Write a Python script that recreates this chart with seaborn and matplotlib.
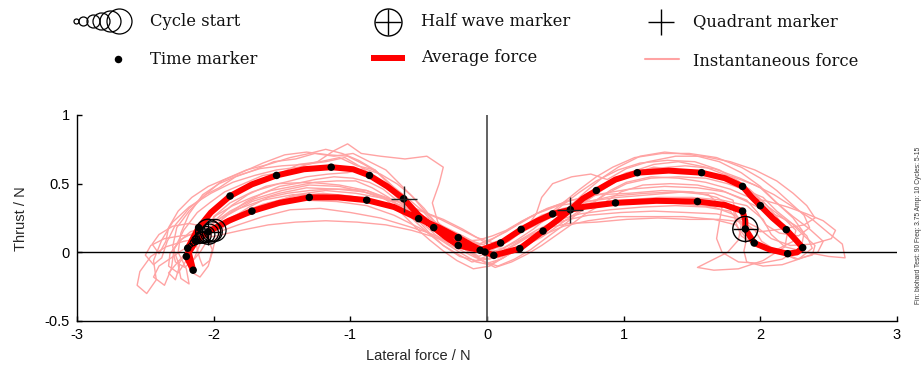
import matplotlib
matplotlib.use("Agg")
import matplotlib.pyplot as plt
import seaborn as sns
import pandas as pd

# ---------------- data ----------------
# time markers along the average force path, in cycle order
avg_x = [-2.04, -2.13, -2.20, -2.15, -2.19, -2.11, -1.88, -1.54, -1.14, -0.86,
         -0.61, -0.39, -0.21, -0.05, 0.10, 0.25, 0.48, 0.94, 1.54, 1.87,
         1.89, 1.955, 2.20, 2.31, 2.19, 2.00, 1.87, 1.57, 1.10, 0.80,
         0.61, 0.41, 0.24, 0.05, -0.015, -0.21, -0.50, -0.88, -1.30, -1.72]
avg_y = [0.15, 0.08, -0.03, -0.13, 0.03, 0.18, 0.41, 0.56, 0.62, 0.56,
         0.39, 0.18, 0.05, 0.015, 0.068, 0.167, 0.28, 0.36, 0.37, 0.30,
         0.17, 0.068, -0.01, 0.034, 0.165, 0.34, 0.48, 0.58, 0.58, 0.45,
         0.31, 0.155, 0.027, -0.022, 0.002, 0.107, 0.245, 0.38, 0.40, 0.30]

# the average force curve itself (markers plus points)
avg_line_x = [-2.04, -2.13, -2.20, -2.15, -2.19, -2.11, -2.02, -1.88, -1.72, -1.54,
              -1.34, -1.14, -0.98, -0.86, -0.73, -0.61, -0.50, -0.39, -0.30, -0.21,
              -0.05, 0.10, 0.25, 0.37, 0.48, 0.70, 0.94, 1.24, 1.54, 1.74,
              1.87, 1.89, 1.89, 1.955, 2.07, 2.20, 2.27, 2.31, 2.26, 2.19,
              2.09, 2.00, 1.93, 1.87, 1.74, 1.57, 1.33, 1.10, 0.94, 0.80,
              0.70, 0.61, 0.51, 0.41, 0.24, 0.05, -0.015, -0.11, -0.21, -0.35,
              -0.50, -0.68, -0.88, -1.09, -1.30, -1.52, -1.72, -1.89, -2.04]
avg_line_y = [0.15, 0.08, -0.03, -0.13, 0.03, 0.18, 0.29, 0.41, 0.495, 0.56,
              0.605, 0.62, 0.605, 0.56, 0.48, 0.39, 0.27, 0.18, 0.11, 0.05,
              0.015, 0.068, 0.167, 0.23, 0.28, 0.33, 0.36, 0.375, 0.37, 0.345,
              0.30, 0.23, 0.17, 0.068, 0.02, -0.01, 0.0, 0.034, 0.09, 0.165,
              0.25, 0.34, 0.41, 0.48, 0.54, 0.58, 0.595, 0.58, 0.53, 0.45,
              0.39, 0.31, 0.23, 0.155, 0.027, -0.022, 0.002, 0.05, 0.107, 0.18,
              0.245, 0.33, 0.38, 0.40, 0.40, 0.36, 0.30, 0.23, 0.15]

half_x = [-2.04, 1.89]
half_y = [0.15, 0.17]
quad_x = [-0.61, 0.61]
quad_y = [0.39, 0.31]

start_x = [-2.17, -2.15, -2.13, -2.11, -2.09, -2.07, -2.05, -2.03, -2.01, -1.99]
start_y = [0.05, 0.07, 0.09, 0.10, 0.11, 0.12, 0.13, 0.14, 0.15, 0.16]
start_d = [4, 6, 8, 10, 12, 14, 16, 18, 20, 22]   # circle diameters (px)

cycle_05 = [(-2.17,0.05),(-2.24,0.01),(-2.31,-0.04),(-2.40,-0.10),(-2.44,-0.18),(-2.36,-0.24),(-2.31,-0.12),(-2.29,0.02),(-2.22,0.16),(-2.12,0.29),(-2.03,0.36),(-1.92,0.44),(-1.78,0.50),(-1.64,0.56),(-1.50,0.58),(-1.38,0.64),(-1.22,0.66),(-1.08,0.69),(-0.95,0.63),(-0.82,0.60),(-0.70,0.49),(-0.60,0.41),(-0.47,0.30),(-0.38,0.20),(-0.26,0.11),(-0.15,0.03),(-0.06,-0.03),(0.06,0.03),(0.15,0.09),(0.26,0.16),(0.40,0.24),(0.56,0.30),(0.75,0.33),(0.98,0.35),(1.22,0.37),(1.45,0.35),(1.66,0.33),(1.82,0.27),(1.90,0.16),(1.98,0.07),(2.12,0.01),(2.28,-0.05),(2.42,0.00),(2.46,0.08),(2.36,0.17),(2.24,0.26),(2.12,0.36),(2.00,0.47),(1.85,0.54),(1.66,0.61),(1.45,0.63),(1.22,0.61),(1.02,0.58),(0.86,0.50),(0.72,0.42),(0.58,0.31),(0.45,0.20),(0.34,0.10),(0.22,0.02),(0.10,-0.05),(0.00,-0.08),(-0.08,-0.03),(-0.18,0.05),(-0.30,0.14),(-0.45,0.22),(-0.62,0.30),(-0.80,0.37),(-1.00,0.41),(-1.20,0.43),(-1.40,0.41),(-1.60,0.36),(-1.80,0.28),(-1.98,0.17)]
cycle_06 = [(-2.15,0.07),(-2.20,0.00),(-2.27,-0.08),(-2.33,-0.15),(-2.28,-0.20),(-2.25,-0.10),(-2.30,0.04),(-2.27,0.18),(-2.18,0.30),(-2.06,0.42),(-1.96,0.47),(-1.84,0.55),(-1.70,0.60),(-1.56,0.66),(-1.40,0.68),(-1.26,0.72),(-1.12,0.70),(-0.98,0.72),(-0.86,0.66),(-0.74,0.60),(-0.64,0.50),(-0.54,0.40),(-0.44,0.28),(-0.34,0.18),(-0.24,0.10),(-0.12,0.05),(-0.02,0.06),(0.08,0.12),(0.18,0.18),(0.30,0.25),(0.44,0.32),(0.62,0.38),(0.82,0.42),(1.04,0.43),(1.28,0.45),(1.50,0.44),(1.68,0.40),(1.80,0.33),(1.82,0.22),(1.86,0.12),(1.98,0.04),(2.12,0.02),(2.24,0.08),(2.26,0.16),(2.18,0.24),(2.06,0.33),(1.96,0.42),(1.84,0.52),(1.70,0.60),(1.52,0.66),(1.32,0.67),(1.12,0.65),(0.96,0.60),(0.80,0.52),(0.68,0.44),(0.56,0.35),(0.45,0.26),(0.34,0.17),(0.22,0.09),(0.10,0.02),(0.00,0.00),(-0.10,0.05),(-0.22,0.12),(-0.36,0.20),(-0.52,0.29),(-0.70,0.37),(-0.90,0.44),(-1.10,0.46),(-1.32,0.47),(-1.52,0.43),(-1.72,0.37),(-1.90,0.27),(-2.04,0.16)]
cycle_07 = [(-2.13,0.09),(-2.12,0.02),(-2.10,-0.05),(-2.08,-0.10),(-2.03,-0.06),(-2.01,0.02),(-2.04,0.09),(-2.00,0.17),(-1.94,0.24),(-1.85,0.31),(-1.76,0.37),(-1.64,0.43),(-1.52,0.48),(-1.40,0.50),(-1.26,0.53),(-1.12,0.55),(-0.98,0.54),(-0.86,0.51),(-0.76,0.46),(-0.66,0.38),(-0.58,0.31),(-0.48,0.22),(-0.38,0.13),(-0.28,0.06),(-0.18,0.01),(-0.08,-0.04),(0.02,-0.05),(0.12,0.01),(0.22,0.07),(0.32,0.13),(0.45,0.18),(0.60,0.21),(0.80,0.22),(1.02,0.24),(1.25,0.25),(1.48,0.24),(1.70,0.24),(1.88,0.22),(1.96,0.16),(2.01,0.08),(2.12,0.01),(2.26,-0.05),(2.38,-0.02),(2.40,0.05),(2.32,0.12),(2.22,0.22),(2.12,0.30),(2.02,0.40),(1.90,0.45),(1.76,0.50),(1.60,0.54),(1.40,0.55),(1.20,0.54),(1.02,0.50),(0.88,0.43),(0.76,0.35),(0.66,0.28),(0.55,0.19),(0.44,0.11),(0.32,0.02),(0.20,-0.05),(0.08,-0.10),(-0.02,-0.07),(-0.12,0.00),(-0.24,0.06),(-0.38,0.11),(-0.55,0.16),(-0.74,0.20),(-0.95,0.22),(-1.18,0.23),(-1.40,0.22),(-1.60,0.20),(-1.80,0.16),(-1.98,0.12)]
cycle_08 = [(-2.11,0.10),(-2.22,0.08),(-2.35,0.04),(-2.46,-0.03),(-2.54,-0.14),(-2.56,-0.24),(-2.49,-0.30),(-2.42,-0.20),(-2.44,-0.06),(-2.38,0.09),(-2.30,0.22),(-2.18,0.33),(-2.02,0.43),(-1.86,0.51),(-1.70,0.56),(-1.54,0.60),(-1.38,0.62),(-1.24,0.66),(-1.12,0.74),(-1.02,0.79),(-0.92,0.72),(-0.78,0.70),(-0.60,0.68),(-0.44,0.70),(-0.32,0.62),(-0.35,0.50),(-0.40,0.36),(-0.36,0.22),(-0.26,0.12),(-0.14,0.03),(-0.04,0.00),(0.06,0.04),(0.16,0.09),(0.26,0.15),(0.38,0.21),(0.52,0.28),(0.70,0.36),(0.92,0.41),(1.16,0.43),(1.40,0.44),(1.62,0.42),(1.72,0.33),(1.70,0.22),(1.68,0.10),(1.72,0.00),(1.84,-0.07),(2.00,-0.08),(2.16,-0.05),(2.30,0.04),(2.32,0.14),(2.24,0.25),(2.12,0.36),(2.00,0.48),(1.86,0.58),(1.70,0.66),(1.50,0.71),(1.30,0.73),(1.12,0.70),(0.96,0.62),(0.84,0.54),(0.72,0.44),(0.60,0.33),(0.48,0.22),(0.36,0.12),(0.24,0.04),(0.12,-0.04),(0.02,-0.09),(-0.08,-0.07),(-0.20,0.00),(-0.34,0.09),(-0.50,0.18),(-0.68,0.27),(-0.88,0.34),(-1.10,0.37),(-1.34,0.38),(-1.56,0.35),(-1.76,0.28),(-1.94,0.20)]
cycle_09 = [(-2.09,0.11),(-2.15,0.14),(-2.23,0.10),(-2.30,0.02),(-2.28,-0.07),(-2.21,-0.11),(-2.14,-0.04),(-2.10,0.06),(-2.05,0.15),(-1.97,0.25),(-1.87,0.34),(-1.75,0.42),(-1.62,0.48),(-1.48,0.51),(-1.32,0.55),(-1.16,0.57),(-1.02,0.58),(-0.90,0.61),(-0.78,0.57),(-0.66,0.50),(-0.56,0.42),(-0.46,0.32),(-0.38,0.22),(-0.28,0.13),(-0.19,0.06),(-0.10,0.02),(0.00,0.02),(0.09,0.07),(0.18,0.13),(0.28,0.20),(0.40,0.27),(0.56,0.32),(0.76,0.36),(1.00,0.38),(1.26,0.40),(1.50,0.40),(1.72,0.38),(1.90,0.34),(2.02,0.24),(2.08,0.13),(2.18,0.04),(2.34,0.00),(2.50,-0.03),(2.62,-0.04),(2.60,0.06),(2.50,0.14),(2.38,0.24),(2.24,0.33),(2.10,0.42),(1.96,0.49),(1.80,0.55),(1.62,0.57),(1.42,0.60),(1.22,0.62),(1.04,0.57),(0.90,0.49),(0.78,0.41),(0.66,0.33),(0.55,0.24),(0.44,0.16),(0.32,0.07),(0.20,0.00),(0.08,-0.04),(-0.04,0.00),(-0.14,0.08),(-0.26,0.15),(-0.40,0.23),(-0.56,0.31),(-0.74,0.39),(-0.96,0.43),(-1.18,0.45),(-1.40,0.42),(-1.60,0.35),(-1.80,0.26),(-1.96,0.17)]
cycle_10 = [(-2.07,0.12),(-2.13,0.08),(-2.20,0.00),(-2.26,-0.09),(-2.24,-0.19),(-2.18,-0.23),(-2.20,-0.12),(-2.26,0.00),(-2.24,0.14),(-2.18,0.28),(-2.08,0.42),(-1.96,0.50),(-1.82,0.56),(-1.66,0.61),(-1.50,0.63),(-1.34,0.64),(-1.18,0.66),(-1.04,0.69),(-0.92,0.62),(-0.82,0.54),(-0.72,0.46),(-0.62,0.36),(-0.52,0.25),(-0.42,0.14),(-0.32,0.05),(-0.20,-0.03),(-0.08,-0.06),(0.04,-0.01),(0.14,0.04),(0.24,0.09),(0.36,0.16),(0.50,0.23),(0.68,0.28),(0.90,0.31),(1.14,0.33),(1.38,0.34),(1.60,0.33),(1.78,0.30),(1.86,0.20),(1.84,0.09),(1.76,0.00),(1.62,-0.07),(1.54,-0.11),(1.66,-0.13),(1.84,-0.12),(2.02,-0.06),(2.18,0.04),(2.20,0.15),(2.12,0.26),(2.02,0.37),(1.92,0.46),(1.78,0.55),(1.60,0.62),(1.40,0.66),(1.22,0.64),(1.04,0.58),(0.90,0.50),(0.78,0.41),(0.66,0.33),(0.55,0.24),(0.44,0.16),(0.32,0.09),(0.20,0.03),(0.08,-0.01),(-0.04,0.04),(-0.18,0.12),(-0.34,0.19),(-0.52,0.26),(-0.72,0.33),(-0.94,0.39),(-1.18,0.42),(-1.42,0.42),(-1.64,0.38),(-1.84,0.31),(-2.00,0.22)]
cycle_11 = [(-2.05,0.13),(-2.10,0.17),(-2.17,0.15),(-2.25,0.08),(-2.32,-0.01),(-2.33,-0.10),(-2.26,-0.15),(-2.20,-0.06),(-2.16,0.06),(-2.08,0.18),(-1.98,0.27),(-1.86,0.34),(-1.72,0.40),(-1.58,0.45),(-1.42,0.48),(-1.26,0.51),(-1.10,0.52),(-0.96,0.52),(-0.84,0.47),(-0.72,0.40),(-0.62,0.32),(-0.52,0.22),(-0.42,0.13),(-0.32,0.05),(-0.22,-0.01),(-0.11,-0.07),(0.00,-0.05),(0.10,0.00),(0.20,0.05),(0.30,0.11),(0.42,0.17),(0.56,0.23),(0.74,0.27),(0.98,0.29),(1.22,0.30),(1.46,0.29),(1.68,0.28),(1.86,0.24),(1.98,0.18),(2.08,0.10),(2.22,0.05),(2.38,0.06),(2.52,0.10),(2.55,0.16),(2.46,0.23),(2.34,0.28),(2.20,0.33),(2.06,0.37),(1.92,0.40),(1.78,0.46),(1.60,0.51),(1.40,0.54),(1.20,0.55),(1.02,0.51),(0.90,0.45),(0.80,0.38),(0.70,0.32),(0.60,0.25),(0.50,0.18),(0.40,0.11),(0.28,0.05),(0.16,0.02),(0.04,0.04),(-0.06,0.10),(-0.18,0.17),(-0.32,0.24),(-0.48,0.30),(-0.66,0.37),(-0.86,0.43),(-1.08,0.48),(-1.30,0.49),(-1.50,0.45),(-1.70,0.39),(-1.88,0.30),(-2.02,0.20)]
cycle_12 = [(-2.03,0.14),(-2.12,0.13),(-2.24,0.12),(-2.36,0.10),(-2.46,0.05),(-2.50,-0.02),(-2.44,-0.09),(-2.38,-0.04),(-2.34,0.08),(-2.28,0.20),(-2.18,0.32),(-2.06,0.42),(-1.94,0.52),(-1.80,0.58),(-1.64,0.65),(-1.48,0.71),(-1.32,0.73),(-1.16,0.71),(-1.02,0.70),(-0.90,0.64),(-0.80,0.58),(-0.70,0.49),(-0.60,0.38),(-0.50,0.28),(-0.40,0.19),(-0.30,0.12),(-0.18,0.08),(-0.06,0.09),(0.04,0.12),(0.14,0.16),(0.26,0.23),(0.40,0.30),(0.58,0.37),(0.80,0.42),(1.04,0.46),(1.30,0.48),(1.54,0.47),(1.74,0.44),(1.90,0.38),(1.98,0.29),(2.04,0.20),(2.14,0.14),(2.28,0.12),(2.36,0.18),(2.32,0.27),(2.22,0.36),(2.12,0.45),(2.00,0.54),(1.86,0.62),(1.68,0.69),(1.48,0.72),(1.28,0.72),(1.08,0.69),(0.92,0.62),(0.80,0.55),(0.68,0.46),(0.58,0.38),(0.48,0.30),(0.38,0.23),(0.26,0.16),(0.14,0.10),(0.04,0.07),(-0.08,0.11),(-0.20,0.17),(-0.34,0.24),(-0.50,0.31),(-0.68,0.38),(-0.88,0.45),(-1.08,0.49),(-1.30,0.51),(-1.52,0.50),(-1.72,0.44),(-1.88,0.36),(-2.00,0.26)]
cycle_13 = [(-2.01,0.15),(-2.05,0.08),(-2.10,0.00),(-2.16,-0.07),(-2.17,-0.14),(-2.10,-0.18),(-2.04,-0.10),(-2.01,0.00),(-1.99,0.09),(-1.93,0.18),(-1.85,0.26),(-1.74,0.33),(-1.60,0.40),(-1.46,0.43),(-1.30,0.45),(-1.16,0.46),(-1.02,0.46),(-0.88,0.45),(-0.76,0.40),(-0.66,0.32),(-0.58,0.24),(-0.50,0.16),(-0.42,0.09),(-0.32,0.01),(-0.22,-0.06),(-0.10,-0.12),(0.02,-0.10),(0.10,-0.05),(0.20,0.01),(0.30,0.07),(0.42,0.13),(0.56,0.19),(0.74,0.23),(0.96,0.26),(1.20,0.26),(1.44,0.26),(1.66,0.24),(1.82,0.20),(1.90,0.10),(1.88,0.01),(1.90,-0.07),(2.02,-0.10),(2.16,-0.09),(2.28,-0.05),(2.38,0.03),(2.34,0.12),(2.25,0.20),(2.14,0.26),(2.02,0.31),(1.88,0.38),(1.72,0.45),(1.54,0.49),(1.34,0.50),(1.14,0.49),(0.98,0.44),(0.84,0.35),(0.72,0.28),(0.60,0.19),(0.50,0.12),(0.40,0.05),(0.30,-0.01),(0.18,-0.07),(0.06,-0.11),(-0.04,-0.06),(-0.16,0.02),(-0.28,0.08),(-0.42,0.14),(-0.58,0.19),(-0.78,0.25),(-1.00,0.29),(-1.22,0.32),(-1.44,0.31),(-1.64,0.26),(-1.82,0.20),(-1.96,0.15)]
cycle_14 = [(-1.99,0.16),(-2.08,0.19),(-2.18,0.21),(-2.30,0.19),(-2.40,0.13),(-2.45,0.06),(-2.40,-0.01),(-2.35,0.08),(-2.33,0.18),(-2.26,0.30),(-2.16,0.40),(-2.04,0.48),(-1.90,0.54),(-1.76,0.60),(-1.60,0.64),(-1.44,0.69),(-1.30,0.72),(-1.18,0.75),(-1.06,0.72),(-0.94,0.67),(-0.82,0.60),(-0.72,0.50),(-0.62,0.40),(-0.52,0.29),(-0.42,0.20),(-0.30,0.12),(-0.18,0.07),(-0.06,0.06),(0.04,0.10),(0.14,0.15),(0.24,0.21),(0.36,0.28),(0.52,0.34),(0.72,0.37),(0.96,0.40),(1.20,0.42),(1.44,0.44),(1.66,0.43),(1.80,0.38),(1.82,0.28),(1.88,0.19),(2.00,0.15),(2.16,0.17),(2.32,0.20),(2.40,0.25),(2.34,0.34),(2.24,0.43),(2.12,0.52),(1.96,0.60),(1.78,0.66),(1.58,0.70),(1.38,0.70),(1.18,0.66),(1.02,0.61),(0.88,0.53),(0.76,0.57),(0.62,0.55),(0.48,0.50),(0.40,0.40),(0.36,0.28),(0.28,0.17),(0.16,0.08),(0.04,0.03),(-0.10,0.08),(-0.24,0.15),(-0.40,0.23),(-0.58,0.30),(-0.78,0.36),(-1.00,0.40),(-1.22,0.41),(-1.44,0.39),(-1.64,0.35),(-1.82,0.28),(-1.96,0.21)]
cycles = [cycle_05, cycle_06, cycle_07, cycle_08, cycle_09,
          cycle_10, cycle_11, cycle_12, cycle_13, cycle_14]

x_ticks = [-3, -2, -1, 0, 1, 2, 3]
x_labels = ["-3", "-2", "-1", "0", "1", "2", "3"]
y_ticks = [-0.5, 0, 0.5, 1]
y_labels = ["-0.5", "0", "0.5", "1"]

PINK = "#ffa3a3"
RED = "#ff0000"
PX = 72 / 100.0  # points per pixel at dpi 100

# ---------------- figure ----------------
sns.set_style("white")
plt.rcParams["font.family"] = ["Liberation Sans", "DejaVu Sans"]
plt.rcParams["axes.unicode_minus"] = False

W, H = 924, 373
fig = plt.figure(figsize=(W / 100, H / 100), dpi=100)
ax = fig.add_axes([77 / W, 1 - 321 / H, (897 - 77) / W, (321 - 115) / H])

# instantaneous traces (continuous from one cycle to the next)
rows = []
for i, cyc in enumerate(cycles):
    nxt = cycles[i + 1][0] if i + 1 < len(cycles) else cyc[0]
    pts = list(cyc) + [nxt]
    for k, (px_, py_) in enumerate(pts):
        rows.append({"x": px_, "y": py_, "cycle": i, "k": k})
inst = pd.DataFrame(rows)
sns.lineplot(data=inst, x="x", y="y", units="cycle", estimator=None, sort=False,
             color=PINK, lw=1.0, ax=ax, zorder=1, legend=False)

ax.axhline(0, color="black", lw=1.0, zorder=2)
ax.axvline(0, color="#555555", lw=1.3, zorder=2)

# average force (closed loop)
avg_df = pd.DataFrame({"x": avg_line_x, "y": avg_line_y, "u": 0})
sns.lineplot(data=avg_df, x="x", y="y", units="u", estimator=None, sort=False,
             color=RED, lw=6 * PX, ax=ax, zorder=3, legend=False,
             solid_joinstyle="round", solid_capstyle="round")
sns.scatterplot(x=avg_x, y=avg_y, color="black", s=(7.5 * PX) ** 2,
                edgecolor="none", ax=ax, zorder=5)

# cycle start circles
sns.scatterplot(x=start_x, y=start_y, s=[(d * PX) ** 2 for d in start_d],
                facecolor="none", edgecolor="black", linewidth=0.9,
                ax=ax, zorder=6)
# half wave markers
sns.scatterplot(x=half_x, y=half_y, s=(25 * PX) ** 2, facecolor="none",
                edgecolor="black", linewidth=1.0, ax=ax, zorder=6)
sns.scatterplot(x=half_x, y=half_y, s=(25 * PX) ** 2, marker="+",
                color="black", linewidth=1.0, ax=ax, zorder=6)
# quadrant markers
sns.scatterplot(x=quad_x, y=quad_y, s=(27 * PX) ** 2, marker="+",
                color="#222222", linewidth=1.0, ax=ax, zorder=6)

ax.set_xlim(-3, 3)
ax.set_ylim(-0.5, 1)
ax.set_xticks(x_ticks, x_labels)
ax.set_yticks(y_ticks, y_labels)
ax.tick_params(direction="in", length=5 * PX, width=1, colors="black",
               labelsize=10.5, pad=5, left=True, bottom=True)
for s in ["top", "right"]:
    ax.spines[s].set_visible(False)
for s in ["left", "bottom"]:
    ax.spines[s].set_color("black")
    ax.spines[s].set_linewidth(1)
ax.set_xlabel("")
ax.set_ylabel("")

fig.text(418 / W, 1 - 356 / H, "Lateral force / N", ha="center", va="center",
         fontsize=10.5)
fig.text(21 / W, 1 - 219 / H, "Thrust / N", ha="center", va="center",
         rotation=90, fontsize=10.5)
fig.text(919 / W, 1 - 225 / H,
         "Fin: biohard Test: 90 Freq: 3.75 Amp: 10 Cycles: 5-15",
         ha="center", va="center", rotation=90, fontsize=4.8, color="#333333")

# ---------------- legend (pixel coordinate overlay) ----------------
lax = fig.add_axes([0, 0, 1, 1])
lax.set_xlim(0, W)
lax.set_ylim(H, 0)
lax.axis("off")

leg_cx = [76, 83, 93, 101, 110, 119]
leg_cd = [5, 9, 13, 17, 21, 25]
for cx, d in zip(leg_cx, leg_cd):
    lax.plot([cx], [21], marker="o", ms=d * PX, mfc="none", mec="black", mew=0.9)
lax.plot([118], [59], marker="o", ms=7.5 * PX, mfc="black", mec="none")
lax.plot([388], [22], marker="o", ms=27 * PX, mfc="none", mec="black", mew=1.0)
lax.plot([388], [22], marker="+", ms=27 * PX, mec="black", mew=1.0)
lax.plot([371, 405], [58, 58], color=RED, lw=6 * PX, solid_capstyle="butt")
lax.plot([661], [22], marker="+", ms=27 * PX, mec="black", mew=1.0)
lax.plot([645, 679], [59, 59], color=PINK, lw=1.5)

serif = ["DejaVu Serif"]
lfs = 11.8
for tx, ty, t in [(150, 21, "Cycle start"), (150, 60, "Time marker"),
                  (421, 22, "Half wave marker"), (421, 58, "Average force"),
                  (693, 22, "Quadrant marker"), (693, 61, "Instantaneous force")]:
    lax.text(tx, ty, t, ha="left", va="center", fontsize=lfs, family=serif,
             color="#111111")

fig.savefig("out.png", dpi=100)
